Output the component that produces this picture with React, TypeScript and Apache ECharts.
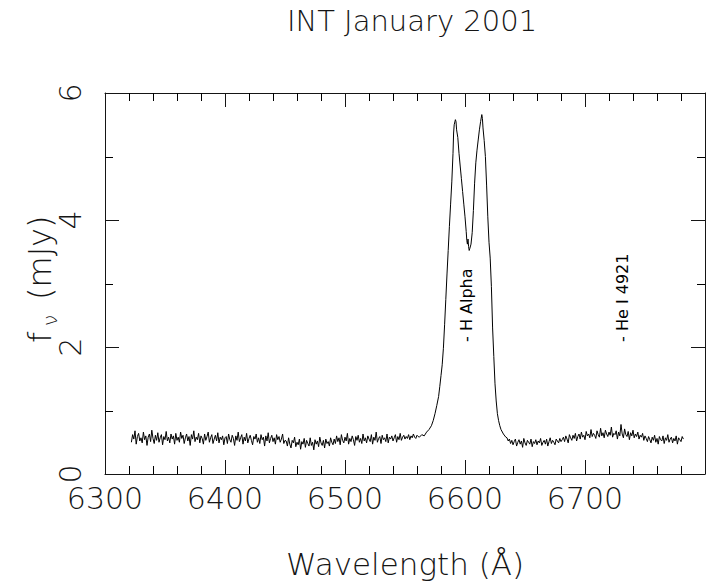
import React, { useEffect, useRef } from "react";
import * as echarts from "echarts";

// ---- data ----
const titleText = "INT January 2001";
const xTitle = "Wavelength (Å)";
const xTicks = [6300, 6400, 6500, 6600, 6700, 6800];
const yTicks = [0, 2, 4, 6];
const xMinorTicks = [6320, 6340, 6360, 6380, 6420, 6440, 6460, 6480, 6520, 6540, 6560, 6580, 6620, 6640, 6660, 6680, 6720, 6740, 6760, 6780];
const yMinorTicks = [1, 3, 5];

// continuum segments, 1 Å sampling, start wavelength given for each
const segAStart = 6322;
const segA = [0.50,0.62,0.55,0.68,0.47,0.59,0.64,0.52,0.57,0.49,
  0.66,0.54,0.60,0.45,0.58,0.63,0.51,0.69,0.56,0.48,
  0.61,0.53,0.65,0.50,0.57,0.62,0.46,0.59,0.54,0.67,
  0.52,0.58,0.49,0.63,0.55,0.60,0.47,0.64,0.53,0.58,
  0.50,0.66,0.56,0.61,0.48,0.57,0.63,0.52,0.59,0.45,
  0.62,0.55,0.68,0.51,0.58,0.54,0.64,0.49,0.60,0.56,
  0.47,0.63,0.53,0.59,0.66,0.50,0.57,0.62,0.48,0.55,
  0.61,0.52,0.65,0.49,0.58,0.54,0.60,0.46,0.57];
const segBStart = 6401;
const segB = [0.59,0.48,0.63,0.54,0.50,0.61,0.56,0.45,0.60,0.53,
  0.66,0.51,0.57,0.62,0.47,0.58,0.52,0.64,0.49,0.56,
  0.61,0.53,0.46,0.59,0.55,0.63,0.50,0.57,0.48,0.62,
  0.54,0.58,0.44,0.60,0.52,0.65,0.49,0.56,0.61,0.51,
  0.57,0.47,0.62,0.54,0.59,0.50,0.55,0.63,0.48,0.53];
const segCStart = 6451;
const segC = [0.52,0.44,0.57,0.47,0.41,0.53,0.49,0.58,0.43,0.50,
  0.46,0.55,0.39,0.51,0.47,0.56,0.42,0.53,0.48,0.44,
  0.57,0.45,0.50,0.38,0.54,0.47,0.52,0.43,0.58,0.49,
  0.45,0.53,0.41,0.55,0.48,0.51,0.44,0.57,0.50,0.46];
const segDStart = 6491;
const segD = [0.55,0.48,0.60,0.51,0.57,0.46,0.62,0.53,0.49,0.58,
  0.52,0.64,0.47,0.56,0.51,0.60,0.54,0.45,0.59,0.53,
  0.61,0.50,0.56,0.48,0.63,0.52,0.57,0.49,0.60,0.55,
  0.51,0.62,0.47,0.58,0.53,0.66,0.50,0.56,0.59,0.48,
  0.61,0.54,0.57,0.51,0.63,0.49,0.58,0.55,0.60,0.52,
  0.57,0.62,0.50,0.59,0.54,0.64,0.53,0.58,0.61,0.55,
  0.59,0.56,0.62,0.54,0.60,0.57,0.63,0.58,0.56,0.61,
  0.59];

// H alpha emission line (irregular sampling)
const lineWl = [6562,6564,6566,6568,6570,6572,6573.5,6575,6576.5,6578,6579,6580,6581,6582,6583,6584,6585,6586,6587,6588,6589,6590,6590.5,6591,6592,6592.5,6593,6594,6595,6596,6597,6598,6599,6600,6601,6601.5,6602,6602.5,6603,6603.5,6604,6605,6606,6607,6608,6609,6610,6611,6612,6613,6614,6614.5,6615,6616,6617,6618,6619,6620,6621,6622,6623,6624,6625,6626,6627,6628,6629,6630,6632,6634];
const lineFlux = [0.58,0.62,0.60,0.66,0.70,0.76,0.84,0.95,1.08,1.22,1.38,1.55,1.72,1.98,2.35,2.75,3.15,3.52,3.90,4.25,4.60,5.05,5.37,5.50,5.58,5.55,5.42,5.30,5.05,4.85,4.65,4.45,4.25,4.05,3.82,3.68,3.62,3.70,3.58,3.52,3.55,3.62,3.80,4.15,4.58,4.90,5.10,5.26,5.42,5.55,5.66,5.60,5.45,5.25,5.00,4.55,4.05,3.65,3.40,2.95,2.30,1.85,1.42,1.15,0.95,0.84,0.76,0.70,0.63,0.58];

const segEStart = 6635;
const segE = [0.57,0.52,0.55,0.48,0.53,0.46,0.51,0.55,0.44,0.50,
  0.54,0.47,0.52,0.42,0.56,0.49,0.45,0.53,0.50,0.47,
  0.55,0.43,0.51,0.48,0.54,0.46,0.52,0.49,0.56,0.45,
  0.50,0.53,0.47,0.55,0.44,0.51,0.57,0.48,0.53,0.50,
  0.46,0.55,0.52,0.49,0.56,0.51];
const segFStart = 6681;
const segF = [0.54,0.58,0.51,0.60,0.55,0.49,0.62,0.57,0.53,0.61,
  0.56,0.64,0.52,0.59,0.63,0.55,0.66,0.58,0.61,0.54,
  0.67,0.60,0.63,0.57,0.70,0.59,0.64,0.61,0.56,0.68,
  0.62,0.58,0.72,0.60,0.65,0.57,0.69,0.63,0.59,0.66,
  0.61,0.74,0.58,0.64,0.62,0.68,0.55,0.66,0.60,0.78,
  0.63,0.57,0.71,0.62,0.59,0.67,0.54,0.65,0.60,0.69,
  0.57,0.63,0.59,0.66,0.55,0.61,0.58,0.64,0.53,0.60];
const segGStart = 6751;
const segG = [0.56,0.51,0.59,0.54,0.49,0.58,0.53,0.61,0.50,0.56,
  0.47,0.59,0.54,0.52,0.60,0.48,0.57,0.53,0.62,0.50,
  0.55,0.58,0.49,0.56,0.52,0.60,0.47,0.57,0.54,0.51,
  0.59,0.55];

// line identifications: wavelength, flux where the text starts, label
const idWl = [6601.5, 6731];
const idFlux = [2.08, 2.08];
const idText = ["- H Alpha", "- He I 4921"];

const STEP = 1;
function seg(start: number, vals: number[]) {
  return vals.map((v, i) => [start + i * STEP, v]);
}

const FONT = "'DejaVu Sans', 'Liberation Sans', sans-serif";
const INK = "#151515";
const MINOR_LEN = 8;

export default function App() {
  const ref = useRef<HTMLDivElement>(null);
  useEffect(() => {
    if (!ref.current) return;
    const chart = echarts.init(ref.current, null, { renderer: "svg" });
    const data = [
      ...seg(segAStart, segA),
      ...seg(segBStart, segB),
      ...seg(segCStart, segC),
      ...seg(segDStart, segD),
      ...lineWl.map((w, i) => [w, lineFlux[i]]),
      ...seg(segEStart, segE),
      ...seg(segFStart, segF),
      ...seg(segGStart, segG),
    ];
    const xMin = xTicks[0];
    const xMax = xTicks[xTicks.length - 1];
    const yMin = yTicks[0];
    const yMax = yTicks[yTicks.length - 1];

    const major = {
      axisLine: { show: true, onZero: false, lineStyle: { color: INK, width: 1 } },
      axisTick: { show: true, inside: true, length: 14, lineStyle: { color: INK, width: 1 } },
      splitLine: { show: false },
    };
    const fillStyle = { fill: "#000" };
    const option: any = {
      animation: false,
      backgroundColor: "#ffffff",
      title: {
        text: titleText,
        left: 407,
        top: 1,
        textAlign: "center",
        textStyle: { fontFamily: FONT, fontWeight: 200, fontSize: 29, color: INK },
      },
      grid: { left: 105, right: 4, top: 93, bottom: 112, containLabel: false },
      xAxis: [
        {
          type: "value", min: xMin, max: xMax, interval: 100, position: "bottom",
          ...major,
          axisLabel: {
            margin: 9, fontSize: 30, color: INK, fontFamily: FONT, fontWeight: 200, showMaxLabel: false,
            formatter: (v: number) => String(v),
          },
          name: xTitle, nameLocation: "middle", nameGap: 74,
          nameTextStyle: { fontFamily: FONT, fontWeight: 200, fontSize: 31, color: INK },
        },
        {
          type: "value", min: xMin, max: xMax, interval: 100, position: "top",
          ...major, axisLabel: { show: false },
        },
      ],
      yAxis: [
        {
          type: "value", min: yMin, max: yMax, interval: 2, position: "left",
          ...major,
          axisLabel: { rotate: 90, margin: 20, fontSize: 30, color: INK, fontFamily: FONT, fontWeight: 200 },
        },
        {
          type: "value", min: yMin, max: yMax, interval: 2, position: "right",
          ...major, axisLabel: { show: false },
        },
      ],
      series: [
        {
          type: "line", xAxisIndex: 0, yAxisIndex: 0, data,
          showSymbol: false, symbol: "none",
          lineStyle: { color: "#000", width: 1 },
        },
        {
          type: "custom", xAxisIndex: 0, yAxisIndex: 0, silent: true, clip: false,
          data: xMinorTicks.map((v) => [v, yMin]),
          renderItem: (_p: any, api: any) => {
            const b = api.coord([api.value(0), yMin]);
            const t = api.coord([api.value(0), yMax]);
            const x = Math.round(b[0]);
            return {
              type: "group",
              children: [
                { type: "rect", shape: { x: x, y: b[1] - MINOR_LEN, width: 1, height: MINOR_LEN }, style: fillStyle },
                { type: "rect", shape: { x: x, y: t[1], width: 1, height: MINOR_LEN }, style: fillStyle },
              ],
            };
          },
        },
        {
          type: "custom", xAxisIndex: 0, yAxisIndex: 0, silent: true, clip: false,
          data: yMinorTicks.map((v) => [xMin, v]),
          renderItem: (_p: any, api: any) => {
            const l = api.coord([xMin, api.value(1)]);
            const r = api.coord([xMax, api.value(1)]);
            const y = Math.round(l[1]);
            return {
              type: "group",
              children: [
                { type: "rect", shape: { x: l[0], y: y, width: MINOR_LEN, height: 1 }, style: fillStyle },
                { type: "rect", shape: { x: r[0] - MINOR_LEN, y: y, width: MINOR_LEN, height: 1 }, style: fillStyle },
              ],
            };
          },
        },
      ],
    };
    chart.setOption(option);

    const ids = idText.map((t, i) => {
      const p = chart.convertToPixel({ xAxisIndex: 0, yAxisIndex: 0 }, [idWl[i], idFlux[i]]) as number[];
      return {
        type: "text", x: p[0], y: p[1], rotation: Math.PI / 2,
        style: { text: t, fontFamily: FONT, fontSize: 16, fill: "#000", align: "left", verticalAlign: "middle" },
      };
    });
    chart.setOption({
      graphic: [
        ...ids,
        {
          type: "group", x: 40, y: 343, rotation: Math.PI / 2,
          children: [
            { type: "text", x: 0, y: 0, style: { text: "f", fontFamily: FONT, fontWeight: 200, fontSize: 32, fill: INK, align: "left", verticalAlign: "middle" } },
            { type: "text", x: 17, y: 10, style: { text: "ν", fontFamily: FONT, fontWeight: 200, fontSize: 20, fill: INK, align: "left", verticalAlign: "middle" } },
            { type: "text", x: 43, y: 0, style: { text: "(mJy)", fontFamily: FONT, fontWeight: 200, fontSize: 32, fill: INK, align: "left", verticalAlign: "middle" } },
          ],
        },
      ],
    });
    return () => chart.dispose();
  }, []);
  return (
    <div
      ref={ref}
      style={{ position: "fixed", left: 0, top: 0, width: 709, height: 586, background: "#fff" }}
    />
  );
}
